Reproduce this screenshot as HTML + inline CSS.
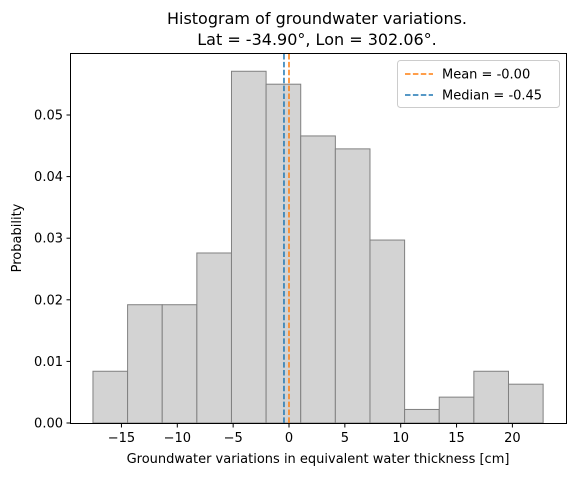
<!DOCTYPE html>
<html><head><meta charset="utf-8"><style>
body{margin:0;background:#fff;font-family:"DejaVu Sans","Liberation Sans",sans-serif;}
text{font-family:"DejaVu Sans","Liberation Sans",sans-serif;fill:#000;}
</style></head><body>
<svg id="chart" width="576" height="476" xmlns="http://www.w3.org/2000/svg">
<text x="317" y="24" font-size="16" text-anchor="middle">Histogram of groundwater variations.</text>
<text x="317" y="45" font-size="16" text-anchor="middle">Lat = -34.90°, Lon = 302.06°.</text>
<g id="bars"></g><g id="xt"></g><g id="yt"></g><g id="lines"></g>
<rect x="70.5" y="53.5" width="496" height="370" fill="none" stroke="#000" stroke-width="1"/>
<text x="318" y="463" font-size="13" text-anchor="middle">Groundwater variations in equivalent water thickness [cm]</text>
<text transform="translate(21,238) rotate(-90)" font-size="13" text-anchor="middle">Probability</text>
<g>
<rect x="397.5" y="60.5" width="162" height="47" rx="3" fill="#fff" stroke="#ccc"/>
<line x1="405" y1="74" x2="433" y2="74" stroke="#ff7f0e" stroke-width="1.5" stroke-dasharray="5.5,2.4"/>
<text x="442" y="78.5" font-size="13">Mean = -0.00</text>
<line x1="405" y1="95" x2="433" y2="95" stroke="#1f77b4" stroke-width="1.5" stroke-dasharray="5.5,2.4"/>
<text x="442" y="99.5" font-size="13">Median = -0.45</text>
</g>
</svg>
<script>
const binStart = -17.55;
const binWidth = 3.1;
const probs = [0.0084,0.0192,0.0192,0.0276,0.0571,0.0550,0.0466,0.0445,0.0297,0.0022,0.0042,0.0084,0.0063];
const xTicks = [-15,-10,-5,0,5,10,15,20];
const yTicks = [0,0.01,0.02,0.03,0.04,0.05];
const yTickLabels = ["0.00","0.01","0.02","0.03","0.04","0.05"];
const meanVal = -0.00;
const medianVal = -0.45;
const NS="http://www.w3.org/2000/svg";
const X=v=>289+v*11.17, Y=v=>423-v*6160;
function mk(t,a,p){const e=document.createElementNS(NS,t);for(const k in a)e.setAttribute(k,a[k]);p.appendChild(e);return e;}
const bars=document.getElementById('bars');
probs.forEach((p,i)=>{const x0=X(binStart+i*binWidth),x1=X(binStart+(i+1)*binWidth);
const r=mk('rect',{x:x0,y:Y(p),width:x1-x0,height:Y(0)-Y(p),fill:'#d3d3d3',stroke:'#808080','stroke-width':1},bars);

});
const xt=document.getElementById('xt');
xTicks.forEach(v=>{const l=mk('line',{x1:X(v),x2:X(v),y1:424,y2:427.5,stroke:'#000'},xt);


const t=mk('text',{x:X(v),y:442,'font-size':13,'text-anchor':'middle'},xt);t.textContent=v<0?'\u2212'+(-v):v;

});
const yt=document.getElementById('yt');
yTicks.forEach((v,i)=>{const l=mk('line',{x1:66.5,x2:70,y1:Y(v),y2:Y(v),stroke:'#000'},yt);


const t=mk('text',{x:63,y:Y(v)+4.5,'font-size':13,'text-anchor':'end'},yt);t.textContent=yTickLabels[i];

});
const ln=document.getElementById('lines');
const m=mk('line',{x1:X(meanVal),x2:X(meanVal),y1:54,y2:423,stroke:'#ff7f0e','stroke-width':1.5,'stroke-dasharray':'5.5,2.4'},ln);


const md=mk('line',{x1:X(medianVal),x2:X(medianVal),y1:54,y2:423,stroke:'#1f77b4','stroke-width':1.5,'stroke-dasharray':'5.5,2.4'},ln);


</script>
</body></html>
